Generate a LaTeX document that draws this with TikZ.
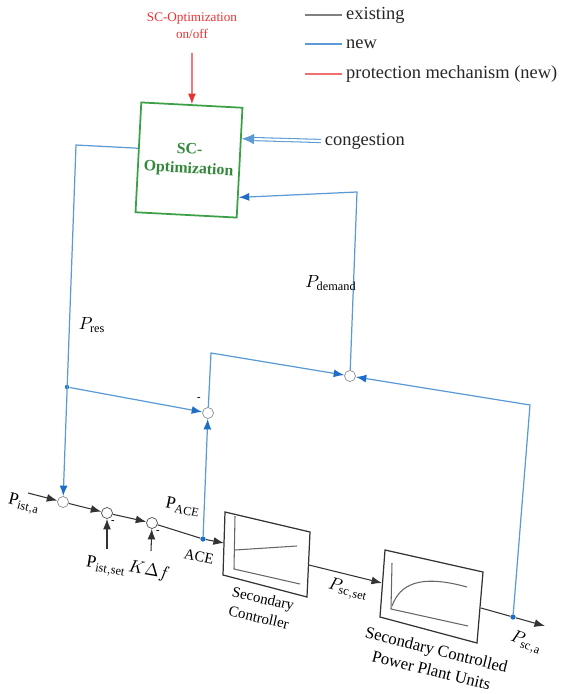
\documentclass[tikz,border=0pt]{standalone}
\usepackage{fontspec}
\setmainfont{Liberation Serif}
\usetikzlibrary{arrows.meta}
\definecolor{newblue}{RGB}{91,155,213}
\definecolor{tipblue}{RGB}{30,110,200}
\definecolor{optgreen}{RGB}{60,160,70}
\definecolor{protred}{RGB}{235,50,50}
\begin{document}
\begin{tikzpicture}[
    x=0.02cm, y=-0.02cm,
    sum/.style={circle, draw=black!45, fill=white, minimum size=0.22cm, inner sep=0pt},
    bdot/.style={circle, fill=tipblue, minimum size=3pt, inner sep=0pt},
    existing/.style={draw=black!80, line width=0.6pt},
    existarr/.style={existing, -{Latex[length=6pt,width=4.5pt]}},
    newsig/.style={draw=newblue, line width=0.7pt},
    newarr/.style={newsig, -{Latex[length=6pt,width=4.5pt,color=tipblue]}},
    blk/.style={draw=black!80, line width=0.7pt, fill=white},
    curve/.style={draw=black!60, line width=0.6pt},
    lbl/.style={font=\fontsize{10}{12}\selectfont, inner sep=1pt},
    minus/.style={font=\bfseries\fontsize{6}{6}\selectfont, inner sep=0pt},
    lgd/.style={font=\fontsize{10.5}{12}\selectfont, text=black!85, anchor=west, inner sep=2pt},
]
\useasboundingbox (0,0) rectangle (572,694);

% --- Legend ---
\draw[black!50, line width=0.8pt] (305,15) -- (342,15)
    node[lgd] (lg-ex) {existing};
\draw[newblue, line width=0.8pt] (305,44) -- (342,44)
    node[lgd] (lg-new) {new};
\draw[protred!70, line width=0.8pt] (305,74) -- (342,74)
    node[lgd] (lg-prot) {protection mechanism (new)};

% --- SC-Optimization block ---
\node[draw=optgreen, line width=1pt, fill=white, rotate=-3,
      minimum width=2cm, minimum height=2.2cm, align=center,
      text=optgreen!85!black, font=\bfseries\fontsize{9}{11}\selectfont]
    (opt) at (189,160) {SC-\\Optimization};
\node[text=protred, align=center, font=\fontsize{7.5}{9.5}\selectfont]
    (onoff) at (192,26) {SC-Optimization\\on/off};
\draw[protred, line width=0.7pt, -{Latex[length=6pt,width=4.5pt]}]
    (onoff.south) ++(0,8) coordinate (onoff-end) (onoff-end) -- (opt.north);

% congestion input
\node[lgd] (cong) at (321,141) {congestion};
\draw[draw=newblue, double=white, double distance=1.2pt, line width=0.6pt,
      -{Latex[length=7pt,width=6pt]}] (cong.west) -- (opt.25);

% --- Main signal path ---
\coordinate (inp) at (28,493);
\node[sum] (j1) at (63,502) {};
\node[sum, draw=black!70] (j2) at (107,513) {};
\node[sum, draw=black!70] (j3) at (152,523) {};
\node[bdot] (ace) at (203,539) {};
\node[minus] (m2) at (113,522) {-};
\node[minus] (m3) at (158,532) {-};

\draw[existarr] (inp) -- (j1);
\draw[existarr] (j1) -- (j2);
\draw[existarr] (j2) -- (j3);
\draw[existing] (j3) -- (ace);

\coordinate (setp) at (107,549);
\coordinate (kdf) at (151,551);
\draw[existarr] (setp) -- (j2);
\draw[existarr] (kdf) -- (j3);

\node[lbl, rotate=-14] (pista) at (24,504) {P$_{\mathrm{ist,a}}$};
\node[lbl, rotate=-10] (pset) at (106,567) {P$_{\mathrm{ist,set}}$};
\node[lbl, rotate=-10] (kdfl) at (149,571) {$K\Delta f$};
\node[lbl, rotate=-12] (pace) at (183,507) {P$_{\mathrm{ACE}}$};
\node[lbl, font=\fontsize{8.5}{10}\selectfont, rotate=-12] (acel) at (199,557) {ACE};

% --- Secondary controller ---
\coordinate (ctl-tl) at (225,512);
\coordinate (ctl-tr) at (310,532);
\coordinate (ctl-br) at (307,597);
\coordinate (ctl-bl) at (223,575);
\draw[blk] (ctl-tl) -- (ctl-tr) -- (ctl-br) -- (ctl-bl) -- cycle;
\draw[curve] (235,516) -- (234,569) -- (300,584);
\draw[curve] (235,550) -- (297,546);
\coordinate (ctl-in) at (224,543);
\coordinate (ctl-out) at (309,565);
\draw[existarr] (ace) -- (ctl-in);
\node[align=center, font=\fontsize{8.5}{11}\selectfont, rotate=-13]
    (ctl-lbl) at (261,608) {Secondary\\Controller};

% --- Power plant units ---
\coordinate (pp-tl) at (385,550);
\coordinate (pp-tr) at (483,572);
\coordinate (pp-br) at (477,643);
\coordinate (pp-bl) at (380,617);
\draw[blk] (pp-tl) -- (pp-tr) -- (pp-br) -- (pp-bl) -- cycle;
\draw[curve] (392,563) -- (391,609) -- (468,626);
\draw[curve] (392,606) .. controls (400,584) and (420,574) .. (467,587);
\coordinate (pp-in) at (382,583);
\coordinate (pp-out) at (481,608);
\draw[existarr] (ctl-out) -- (pp-in);
\node[lbl, rotate=-14] (pscset) at (348,590) {$P_{\mathrm{sc,set}}$};
\node[align=center, font=\fontsize{9.5}{12}\selectfont, rotate=-14]
    (pp-lbl) at (434,660) {Secondary Controlled\\Power Plant Units};

\node[bdot] (pa) at (513,617) {};
\coordinate (outp) at (545,626);
\draw[existing] (pp-out) -- (pa);
\draw[existarr] (pa) -- (outp);
\node[lbl, rotate=-20] (psca) at (526,643) {$P_{\mathrm{sc,a}}$};

% --- New feedback signals ---
\node[sum] (jres) at (208,413) {};
\node[sum] (jdem) at (350,376) {};
\node[minus] (mres) at (199,399) {-};

\coordinate (c-res) at (76,145);
\node[bdot, minimum size=2.5pt] (dres) at (67,387) {};
\draw[newarr] (opt.170) -- (c-res) -- (j1);
\draw[newarr] (dres) -- (jres);
\draw[newarr] (ace) -- (jres);

\coordinate (c-up) at (211,353);
\draw[newarr] (jres) -- (c-up) -- (jdem);

\coordinate (c-pa) at (530,405);
\draw[newarr] (pa) -- (c-pa) -- (jdem);

\coordinate (c-dem) at (357,192);
\draw[newarr] (jdem) -- (c-dem) -- (opt.-34);

\node[lbl] (pres) at (92,325) {$P_{\mathrm{res}}$};
\node[lbl] (pdem) at (331,283) {$P_{\mathrm{demand}}$};

\end{tikzpicture}
\end{document}
